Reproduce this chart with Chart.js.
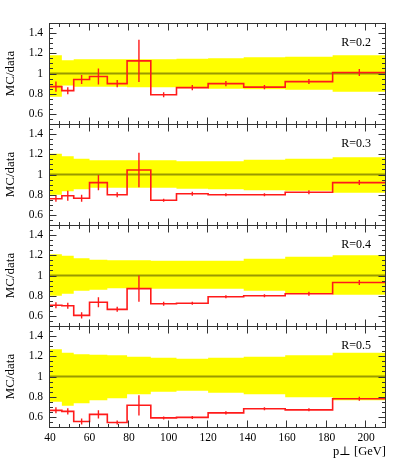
<!DOCTYPE html>
<html><head><meta charset="utf-8">
<script src="https://cdn.jsdelivr.net/npm/chart.js@4/dist/chart.umd.min.js"></script>
<style>
html,body{margin:0;padding:0;background:#fff;}
#wrap{position:relative;width:399px;height:461px;background:#fff;}
#wrap canvas{position:absolute;left:0;top:0;}
</style>
</head><body>
<div id="wrap">
<canvas id="c0" width="399" height="461"></canvas>
<canvas id="c1" width="399" height="461"></canvas>
<canvas id="c2" width="399" height="461"></canvas>
<canvas id="c3" width="399" height="461"></canvas>
</div>
<script>
// ---- data ----
const binEdges = [40, 46, 52, 60, 69, 79, 91, 104, 120, 138, 159, 183, 210];
const xTicks = [40, 60, 80, 100, 120, 140, 160, 180, 200];
const xTickLabels = ['40', '60', '80', '100', '120', '140', '160', '180', '200'];
const yTicks = [0.6, 0.8, 1, 1.2, 1.4];
const yTickLabels = ['0.6', '0.8', '1', '1.2', '1.4'];
const radiusLabels = ['R=0.2', 'R=0.3', 'R=0.4', 'R=0.5'];

const ratioR02 = [0.87, 0.83, 0.94, 0.97, 0.90, 1.125, 0.79, 0.86, 0.90, 0.865, 0.92, 1.01];
const errR02   = [0.05, 0.035, 0.045, 0.08, 0.035, 0.21, 0.025, 0.025, 0.025, 0.02, 0.025, 0.035];
const bandHiR02 = [1.18, 1.13, 1.14, 1.14, 1.14, 1.14, 1.14, 1.145, 1.15, 1.16, 1.165, 1.18];
const bandLoR02 = [0.77, 0.88, 0.87, 0.87, 0.87, 0.865, 0.865, 0.855, 0.85, 0.845, 0.84, 0.82];

const ratioR03 = [0.76, 0.79, 0.765, 0.92, 0.80, 1.045, 0.745, 0.81, 0.80, 0.80, 0.825, 0.92];
const errR03   = [0.03, 0.05, 0.035, 0.075, 0.025, 0.17, 0.015, 0.02, 0.015, 0.015, 0.02, 0.025];
const bandHiR03 = [1.205, 1.18, 1.155, 1.14, 1.14, 1.14, 1.14, 1.13, 1.13, 1.145, 1.155, 1.17];
const bandLoR03 = [0.80, 0.835, 0.855, 0.87, 0.87, 0.87, 0.87, 0.86, 0.855, 0.845, 0.84, 0.82];

const ratioR04 = [0.705, 0.70, 0.605, 0.735, 0.665, 0.87, 0.72, 0.725, 0.79, 0.80, 0.82, 0.93];
const errR04   = [0.03, 0.03, 0.03, 0.05, 0.025, 0.13, 0.02, 0.015, 0.015, 0.015, 0.02, 0.025];
const bandHiR04 = [1.21, 1.195, 1.17, 1.155, 1.15, 1.15, 1.145, 1.145, 1.145, 1.165, 1.185, 1.20];
const bandLoR04 = [0.80, 0.82, 0.85, 0.86, 0.875, 0.875, 0.87, 0.87, 0.87, 0.85, 0.825, 0.81];

const ratioR05 = [0.665, 0.655, 0.555, 0.625, 0.545, 0.715, 0.59, 0.595, 0.64, 0.68, 0.67, 0.78];
const errR05   = [0.03, 0.03, 0.03, 0.04, 0.02, 0.10, 0.015, 0.015, 0.015, 0.015, 0.015, 0.02];
const bandHiR05 = [1.27, 1.235, 1.22, 1.215, 1.21, 1.195, 1.185, 1.175, 1.185, 1.195, 1.21, 1.235];
const bandLoR05 = [0.75, 0.71, 0.735, 0.765, 0.785, 0.825, 0.85, 0.86, 0.84, 0.825, 0.795, 0.765];

// ---- layout / style ----
const W = 399, H = 461;
const panelTops = [23, 124, 225, 326];
const panelH = 101;
const RED = '#ff1a1a';
const SERIF = '"Liberation Serif", "DejaVu Serif", serif';

const framePlugin = {
  id: 'frame',
  afterDatasetsDraw(chart, args, opts) {
    const ctx = chart.ctx;
    const {left, right, top, bottom} = chart.chartArea;
    const xs = chart.scales.x, ys = chart.scales.y;
    ctx.save();
    ctx.strokeStyle = '#333';
    ctx.lineWidth = 1;
    const L = Math.round(left) - 0.5, R = Math.round(right) - 0.5;
    const T = Math.round(top) + 0.5, B = Math.round(bottom) + 0.5;
    ctx.strokeRect(L, T, R - L, B - T);
    ctx.beginPath();
    const tick = (x1, y1, x2, y2) => { ctx.moveTo(x1, y1); ctx.lineTo(x2, y2); };
    // x ticks (major 20, minor 5)
    for (let v = 40; v <= 210; v += 5) {
      const major = xTicks.includes(v);
      const len = major ? 7 : 3.5;
      const px = Math.round(xs.getPixelForValue(v)) - 0.5;
      tick(px, T, px, T + len);
      tick(px, B, px, B - len);
    }
    // y ticks (major 0.2, minor 0.05)
    for (let k = 11; k <= 29; k++) {
      const v = k * 0.05;
      const major = yTicks.some(t => Math.abs(t - v) < 1e-6);
      const len = major ? 7 : 3.5;
      const py = Math.round(ys.getPixelForValue(v)) + 0.5;
      tick(L, py, L + len, py);
      tick(R, py, R - len, py);
    }
    ctx.stroke();
    // R label
    ctx.fillStyle = '#000';
    ctx.font = '12px ' + SERIF;
    ctx.textAlign = 'right';
    ctx.textBaseline = 'middle';
    ctx.fillText(opts.label, right - 15, top + 20);
    ctx.restore();
  }
};

function stepPoints(vals) {
  return binEdges.map((e, i) => ({x: e, y: vals[Math.min(i, vals.length - 1)]}));
}
function errorPoints(vals, errs) {
  const pts = [];
  vals.forEach((v, i) => {
    const c = (binEdges[i] + binEdges[i + 1]) / 2;
    pts.push({x: c, y: v - errs[i]}, {x: c, y: v + errs[i]}, {x: c, y: null});
  });
  return pts;
}

function makePanel(idx, ratio, err, bandHi, bandLo) {
  const top = panelTops[idx], bottom = top + panelH;
  const last = idx === 3;
  new Chart(document.getElementById('c' + idx), {
    type: 'line',
    data: {
      datasets: [
        {data: errorPoints(ratio, err), borderColor: RED, borderWidth: 1.4, pointRadius: 0, spanGaps: false, fill: false},
        {data: stepPoints(ratio), stepped: true, borderColor: RED, borderWidth: 1.6, pointRadius: 0, fill: false},
        {data: [{x: 40, y: 1}, {x: 210, y: 1}], borderColor: '#9a9a00', borderWidth: 2, pointRadius: 0, fill: false},
        {data: stepPoints(bandHi), stepped: true, borderWidth: 0, borderColor: 'rgba(0,0,0,0)', backgroundColor: '#ffff00', fill: '+1', pointRadius: 0},
        {data: stepPoints(bandLo), stepped: true, borderWidth: 0, borderColor: 'rgba(0,0,0,0)', backgroundColor: '#ffff00', fill: false, pointRadius: 0}
      ]
    },
    options: {
      responsive: false, animation: false, devicePixelRatio: 1,
      events: [],
      layout: {padding: {left: 0, right: W - 386, top: top, bottom: last ? 0 : H - bottom}},
      plugins: {legend: {display: false}, tooltip: {enabled: false}, frame: {label: radiusLabels[idx]}},
      scales: {
        x: {
          type: 'linear', min: 40, max: 210,
          grid: {display: false, drawTicks: false}, border: {display: false},
          afterBuildTicks: s => { s.ticks = xTicks.map(v => ({value: v})); },
          ticks: {display: last, autoSkip: false, maxRotation: 0, padding: 4, color: '#000',
                  font: {family: SERIF, size: 11.5}, callback: (v, i) => xTickLabels[i]},
          title: {display: last, text: 'p⊥ [GeV]', align: 'end', color: '#000',
                  font: {family: SERIF, size: 12.5}, padding: {top: 0, bottom: 2}},
          afterFit: s => { s.height = last ? H - bottom : 0; }
        },
        y: {
          type: 'linear', min: 0.5, max: 1.5,
          grid: {display: false, drawTicks: false}, border: {display: false},
          afterBuildTicks: s => { s.ticks = yTicks.map(v => ({value: v})); },
          ticks: {padding: 7, color: '#000', font: {family: SERIF, size: 11.5}, callback: (v, i) => yTickLabels[i]},
          title: {display: true, text: 'MC/data', color: '#000', font: {family: SERIF, size: 13}, padding: {top: 3, bottom: 0}},
          afterFit: s => { s.width = 50; }
        }
      }
    },
    plugins: [framePlugin]
  });
}

makePanel(0, ratioR02, errR02, bandHiR02, bandLoR02);
makePanel(1, ratioR03, errR03, bandHiR03, bandLoR03);
makePanel(2, ratioR04, errR04, bandHiR04, bandLoR04);
makePanel(3, ratioR05, errR05, bandHiR05, bandLoR05);
</script>
</body></html>
